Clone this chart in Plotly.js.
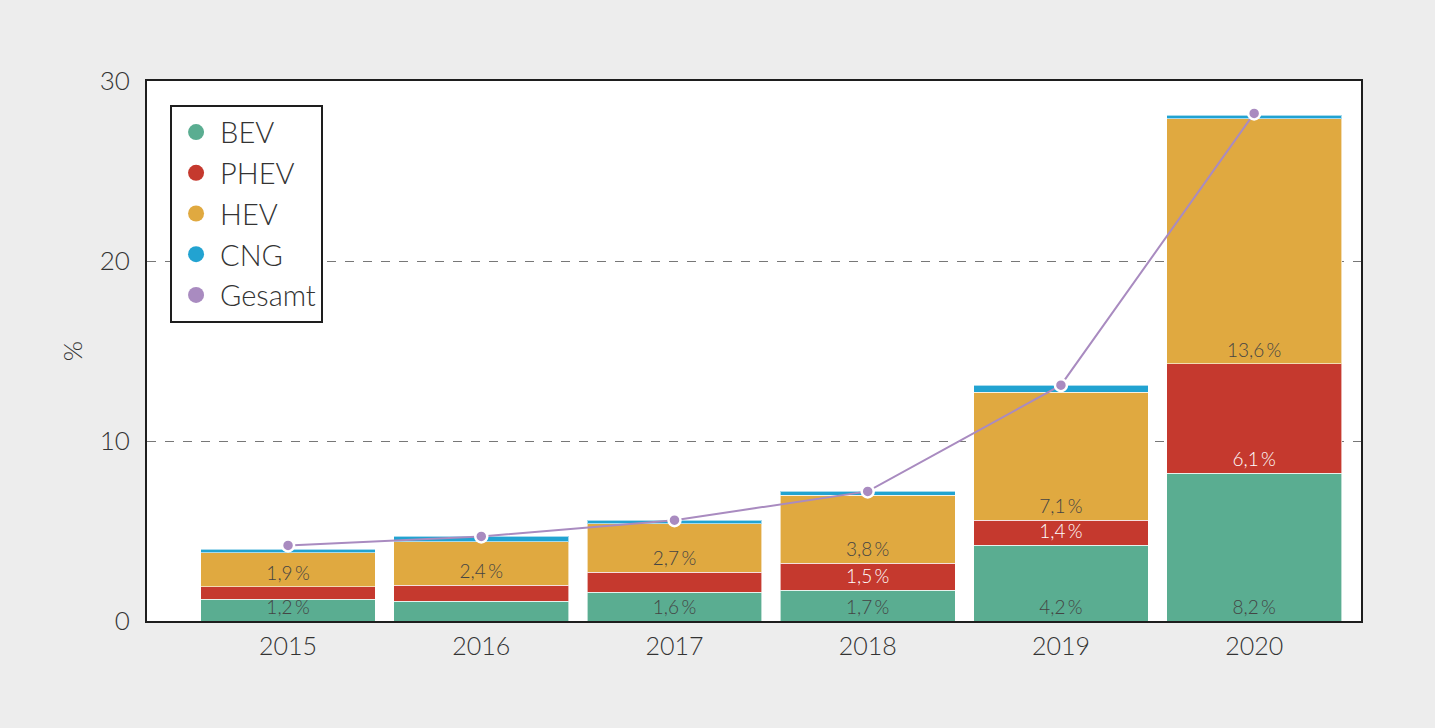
<!DOCTYPE html>
<html>
<head>
<meta charset="utf-8">
<script src="https://cdn.plot.ly/plotly-3.0.1.min.js"></script>
<style>
  html, body { margin: 0; padding: 0; background: #ededed; }
  #plot { width: 1435px; height: 728px; }
</style>
</head>
<body>
<div id="plot"></div>
<script>
// Anteil alternativer Antriebe an Neuzulassungen, in %
const years = ['2015', '2016', '2017', '2018', '2019', '2020']
const bev = [1.2, 1.1, 1.6, 1.7, 4.2, 8.2]
const phev = [0.7, 0.9, 1.1, 1.5, 1.4, 6.1]
const hev = [1.9, 2.4, 2.7, 3.8, 7.1, 13.6]
const cng = [0.2, 0.3, 0.2, 0.2, 0.4, 0.2]
const gesamt = [4.2, 4.7, 5.6, 7.2, 13.1, 28.2]

const bevLabels = ['1,2\u2009%', '', '1,6\u2009%', '1,7\u2009%', '4,2\u2009%', '8,2\u2009%']
const phevLabels = ['', '', '', '1,5\u2009%', '1,4\u2009%', '6,1\u2009%']
const hevLabels = ['1,9\u2009%', '2,4\u2009%', '2,7\u2009%', '3,8\u2009%', '7,1\u2009%', '13,6\u2009%']

const colors = {
  BEV: '#5aad91',
  PHEV: '#c5392e',
  HEV: '#e0a940',
  CNG: '#22a3d1',
  Gesamt: '#a98bc0'
}

const font = 'Lato, "Open Sans", sans-serif'

function barTrace (name, values, labels, textColor) {
  return {
    type: 'bar',
    name: name,
    x: years,
    y: values,
    text: labels,
    textposition: labels ? 'inside' : 'none',
    insidetextanchor: 'start',
    textangle: 0,
    constraintext: 'none',
    textfont: { family: font, size: 19, color: textColor, weight: 300 },
    marker: { color: colors[name], line: { color: 'rgba(255,255,255,0.6)', width: 1 } },
    showlegend: false,
    hoverinfo: 'skip'
  }
}

// legend entries drawn as circles, like in the original
function legendTrace (name) {
  return {
    type: 'scatter',
    mode: 'markers',
    name: name,
    legendgroup: name,
    x: [null],
    y: [null],
    marker: { color: colors[name], size: 20, symbol: 'circle' },
    showlegend: true
  }
}

const data = [
  barTrace('BEV', bev, bevLabels, '#444'),
  barTrace('PHEV', phev, phevLabels, '#ffffff'),
  barTrace('HEV', hev, hevLabels, '#444'),
  barTrace('CNG', cng, null, '#444'),
  {
    type: 'scatter',
    mode: 'lines+markers',
    name: 'Gesamt',
    x: years,
    y: gesamt,
    line: { color: colors.Gesamt, width: 2 },
    marker: { color: colors.Gesamt, size: 12, line: { color: '#ffffff', width: 2.5 } },
    showlegend: false,
    hoverinfo: 'skip'
  },
  legendTrace('BEV'),
  legendTrace('PHEV'),
  legendTrace('HEV'),
  legendTrace('CNG'),
  legendTrace('Gesamt')
]

const layout = {
  width: 1435,
  height: 728,
  paper_bgcolor: '#ededed',
  plot_bgcolor: '#ffffff',
  barmode: 'stack',
  bargap: 0.095,
  margin: { l: 147, r: 74, t: 81, b: 107 },
  font: { family: font, color: '#333', weight: 300 },
  xaxis: {
    type: 'category',
    range: [-0.73, 5.553],
    showline: true,
    mirror: true,
    linecolor: '#1e1e1e',
    linewidth: 2,
    showgrid: false,
    ticks: '',
    ticklabelstandoff: 2,
    tickfont: { family: font, size: 25, color: '#333', weight: 300 }
  },
  yaxis: {
    range: [0, 30],
    dtick: 10,
    showline: true,
    mirror: true,
    linecolor: '#1e1e1e',
    linewidth: 2,
    showgrid: true,
    gridcolor: '#777',
    griddash: 'dash',
    gridwidth: 1,
    zeroline: false,
    ticks: '',
    ticklabelstandoff: 10,
    tickfont: { family: font, size: 26, color: '#333', weight: 300 },
    title: { text: '%', standoff: 10, font: { family: font, size: 26, color: '#333', weight: 300 } }
  },
  legend: {
    x: 0.019,
    y: 0.956,
    xanchor: 'left',
    yanchor: 'top',
    traceorder: 'normal',
    tracegroupgap: 5,
    itemwidth: 38,
    bgcolor: '#ffffff',
    bordercolor: '#1e1e1e',
    borderwidth: 2,
    font: { family: font, size: 29, color: '#333', weight: 300 },
    itemsizing: 'trace'
  },
  showlegend: true
}

Plotly.newPlot('plot', data, layout, { displayModeBar: false, staticPlot: true })
</script>
</body>
</html>
